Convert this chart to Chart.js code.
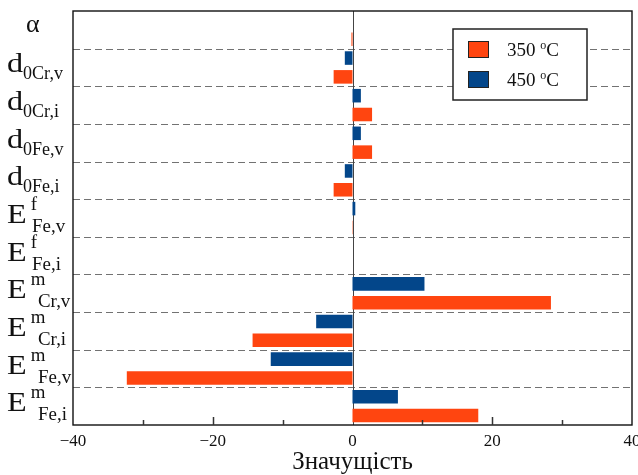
<!DOCTYPE html>
<html>
<head>
<meta charset="utf-8">
<script src="https://cdn.jsdelivr.net/npm/chart.js@4.4.1/dist/chart.umd.min.js"></script>
<style>
  html, body { margin: 0; padding: 0; background: #fff; }
  #wrap { width: 638px; height: 475px; position: relative; }
</style>
</head>
<body>
<div id="wrap"><canvas id="chart"></canvas></div>
<script>
// categories, top to bottom; label = main letter + superscript + subscript
const categories = ['α', 'd0Cr,v', 'd0Cr,i', 'd0Fe,v', 'd0Fe,i', 'EfFe,v', 'EfFe,i', 'EmCr,v', 'EmCr,i', 'EmFe,v', 'EmFe,i'];
const labelMain = ['α', 'd', 'd', 'd', 'd', 'E', 'E', 'E', 'E', 'E', 'E'];
const labelSup  = ['', '', '', '', '', 'f', 'f', 'm', 'm', 'm', 'm'];
const labelSub  = ['', '0Cr,v', '0Cr,i', '0Fe,v', '0Fe,i', 'Fe,v', 'Fe,i', 'Cr,v', 'Cr,i', 'Fe,v', 'Fe,i'];

// series values (significance, %)
const values350 = [-0.15, -2.7, 2.8, 2.8, -2.7, 0.05, 0, 28.4, -14.3, -32.3, 18.0];
const values450 = [0, -1.1, 1.2, 1.2, -1.1, 0.4, 0, 10.3, -5.2, -11.7, 6.5];
const seriesTemps = ['350', '450'];

const xTicks = [-40, -20, 0, 20, 40];
const xMinorTicks = [-30, -20, -10, 10, 20, 30];

const ORANGE = '#ff4510';
const BLUE = '#03468a';
const SERIF = '"Liberation Serif", "Times New Roman", serif';

function fmtTick(v) {
  return v < 0 ? '\u2212' + Math.abs(v) : String(v);
}

// text stretched horizontally (the source figure's labels are wide)
function wideText(ctx, txt, x, y, sx) {
  ctx.save();
  ctx.translate(x, y);
  ctx.scale(sx, 1);
  ctx.fillText(txt, 0, 0);
  const w = ctx.measureText(txt).width * sx;
  ctx.restore();
  return w;
}

const decorPlugin = {
  id: 'decor',
  beforeDatasetsDraw(chart) {
    const { ctx, chartArea: a, scales } = chart;
    const y = scales.y, x = scales.x;
    ctx.save();
    // dashed separators between categories
    ctx.strokeStyle = '#727272';
    ctx.lineWidth = 1.2;
    ctx.setLineDash([7, 4]);
    for (let i = 1; i < categories.length; i++) {
      const yy = Math.round((y.getPixelForValue(i - 1) + y.getPixelForValue(i)) / 2) + 0.5;
      ctx.beginPath();
      ctx.moveTo(a.left, yy);
      ctx.lineTo(a.right, yy);
      ctx.stroke();
    }
    ctx.setLineDash([]);
    // zero line
    const x0 = Math.round(x.getPixelForValue(0)) + 0.5;
    ctx.strokeStyle = '#444';
    ctx.lineWidth = 1;
    ctx.beginPath();
    ctx.moveTo(x0, a.top);
    ctx.lineTo(x0, a.bottom);
    ctx.stroke();
    ctx.restore();
  },
  afterDatasetsDraw(chart) {
    const { ctx, chartArea: a, scales } = chart;
    const y = scales.y, x = scales.x;
    ctx.save();
    // frame
    ctx.strokeStyle = '#111';
    ctx.lineWidth = 1.4;
    ctx.strokeRect(a.left, a.top, a.right - a.left, a.bottom - a.top);
    // inward ticks on the bottom axis
    ctx.lineWidth = 1.5;
    ctx.strokeStyle = '#333';
    xMinorTicks.forEach(v => {
      const px = Math.round(x.getPixelForValue(v)) + 0.5;
      const len = (v % 20 === 0) ? 8 : 5;
      ctx.beginPath();
      ctx.moveTo(px, a.bottom);
      ctx.lineTo(px, a.bottom - len);
      ctx.stroke();
    });

    // category labels with super/subscripts
    ctx.fillStyle = '#111';
    ctx.textBaseline = 'alphabetic';
    ctx.textAlign = 'left';
    categories.forEach((c, i) => {
      const cy = y.getPixelForValue(i);
      if (labelMain[i] === 'α') {
        ctx.font = '26px ' + SERIF;
        wideText(ctx, 'α', 26, cy + 2, 1.0);
        return;
      }
      ctx.font = '28px ' + SERIF;
      const w = wideText(ctx, labelMain[i], 7, cy + 5, 1.15);
      ctx.font = '18px ' + SERIF;
      if (labelSup[i]) {
        wideText(ctx, labelSup[i], 7 + w + 4, cy - 8, 1.05);
        const subX = labelSup[i] === 'm' ? 38 : 32;
        wideText(ctx, labelSub[i], subX, cy + 14, 1.05);
      } else {
        wideText(ctx, labelSub[i], 7 + w, cy + 12, 1.0);
      }
    });

    // legend box
    const lx = 453, ly = 29, lw = 134, lh = 71;
    ctx.fillStyle = '#fff';
    ctx.fillRect(lx, ly, lw, lh);
    ctx.strokeStyle = '#222';
    ctx.lineWidth = 1.5;
    ctx.strokeRect(lx, ly, lw, lh);
    const colors = [ORANGE, BLUE];
    seriesTemps.forEach((t, k) => {
      const sy = ly + 12 + k * 30;
      ctx.fillStyle = colors[k];
      ctx.fillRect(468, sy, 21, 17);
      ctx.strokeStyle = '#222';
      ctx.lineWidth = 1;
      ctx.strokeRect(468.5, sy + 0.5, 20, 16);
      ctx.fillStyle = '#111';
      ctx.font = '19px ' + SERIF;
      const base = sy + 15;
      let tx = 507;
      ctx.fillText(t + ' ', tx, base);
      tx += ctx.measureText(t + ' ').width;
      ctx.font = '12px ' + SERIF;
      ctx.fillText('o', tx, base - 7);
      tx += ctx.measureText('o').width;
      ctx.font = '19px ' + SERIF;
      ctx.fillText('C', tx, base);
    });
    ctx.restore();
  }
};

const chart = new Chart(document.getElementById('chart'), {
  type: 'bar',
  data: {
    labels: categories,
    // 450 listed first so its bar sits above the 350 bar in each row
    datasets: [
      { label: '450 ºC', data: values450, backgroundColor: BLUE, borderWidth: 0,
        categoryPercentage: 1.0, barPercentage: 0.72 },
      { label: '350 ºC', data: values350, backgroundColor: ORANGE, borderWidth: 0,
        categoryPercentage: 1.0, barPercentage: 0.72 }
    ]
  },
  plugins: [decorPlugin],
  options: {
    indexAxis: 'y',
    responsive: true,
    maintainAspectRatio: false,
    animation: false,
    layout: { padding: { top: 11, right: 6, left: 0, bottom: 0 } },
    plugins: { legend: { display: false }, tooltip: { enabled: false } },
    scales: {
      x: {
        type: 'linear',
        min: -40, max: 40,
        afterBuildTicks: s => { s.ticks = xTicks.map(v => ({ value: v })); },
        afterFit: s => { s.height = 50; s.paddingLeft = 0; s.paddingRight = 0; },
        grid: { display: false, drawTicks: false },
        border: { display: false },
        ticks: {
          maxRotation: 0, autoSkip: false, padding: 6,
          color: '#111',
          font: { family: SERIF, size: 17 },
          callback: v => fmtTick(v)
        },
        title: {
          display: true, text: 'Значущість', color: '#111',
          font: { family: SERIF, size: 25 },
          padding: { top: 0, bottom: -2 }
        }
      },
      y: {
        type: 'category',
        afterFit: s => { s.width = 73; },
        grid: { display: false, drawTicks: false },
        border: { display: false },
        ticks: { display: false }
      }
    }
  }
});
</script>
</body>
</html>
